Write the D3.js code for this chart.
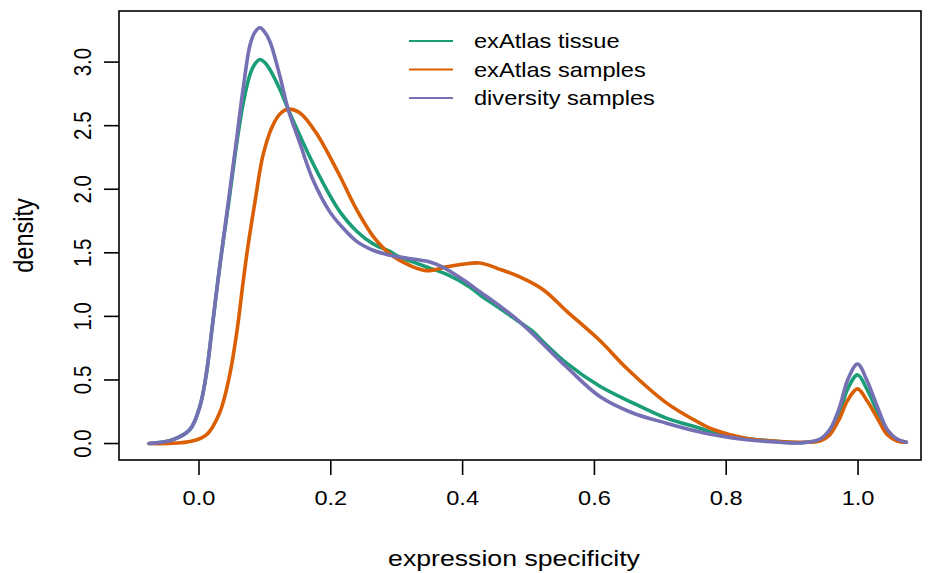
<!DOCTYPE html>
<html>
<head>
<meta charset="utf-8">
<script src="https://cdn.jsdelivr.net/npm/d3@7"></script>
<style>
  body { margin: 0; background: #fff; }
  svg { display: block; }
  text { font-family: "Liberation Sans", Arial, Helvetica, sans-serif; fill: #000; }
</style>
</head>
<body>
<svg id="chart" width="930" height="573"></svg>
<script>
// ---- data ----
const seriesNames = ["exAtlas tissue", "exAtlas samples", "diversity samples"];
const seriesColors = ["#1B9E77", "#D95F02", "#7570B3"];

const tissueX = [-0.075,-0.039,-0.013,0.002,0.012,0.020,0.028,0.035,0.046,0.058,0.068,0.078,0.085,0.093,0.100,0.1085,0.124,0.136,0.154,0.174,0.1995,0.215,0.240,0.265,0.291,0.30,0.351,0.377,0.412,0.432,0.4525,0.483,0.5076,0.523,0.559,0.609,0.659,0.710,0.761,0.781,0.832,0.882,0.913,0.943,0.958,0.973,0.985,1.000,1.014,1.030,1.045,1.060,1.074];
const tissueY = [0,0.03,0.11,0.29,0.55,0.88,1.22,1.50,1.90,2.36,2.68,2.90,2.98,3.02,3.00,2.94,2.78,2.63,2.42,2.20,1.95,1.82,1.67,1.57,1.51,1.48,1.38,1.33,1.23,1.15,1.08,0.97,0.88,0.80,0.63,0.45,0.32,0.20,0.12,0.085,0.04,0.015,0.006,0.03,0.10,0.25,0.43,0.54,0.43,0.25,0.10,0.03,0.01];

const samplesX = [-0.075,-0.013,0.0124,0.032,0.047,0.058,0.0675,0.075,0.086,0.098,0.1125,0.125,0.1358,0.154,0.179,0.204,0.215,0.230,0.240,0.265,0.291,0.321,0.346,0.377,0.401,0.427,0.4575,0.4875,0.523,0.559,0.609,0.650,0.710,0.761,0.781,0.832,0.882,0.913,0.943,0.958,0.973,0.985,1.000,1.014,1.030,1.045,1.060,1.074];
const samplesY = [0,0.015,0.07,0.24,0.53,0.87,1.26,1.55,1.91,2.27,2.50,2.60,2.63,2.60,2.44,2.21,2.10,1.94,1.84,1.63,1.49,1.40,1.36,1.39,1.41,1.42,1.37,1.31,1.21,1.04,0.81,0.59,0.32,0.16,0.11,0.04,0.015,0.01,0.02,0.07,0.20,0.34,0.43,0.34,0.20,0.07,0.02,0.01];

const diversityX = [-0.075,-0.039,-0.013,0.002,0.012,0.020,0.028,0.035,0.046,0.058,0.068,0.078,0.085,0.093,0.100,0.1085,0.124,0.136,0.154,0.174,0.1995,0.215,0.240,0.265,0.291,0.30,0.34,0.35,0.37,0.401,0.428,0.4575,0.48,0.5076,0.559,0.609,0.659,0.710,0.761,0.781,0.832,0.882,0.913,0.943,0.958,0.973,0.985,1.000,1.014,1.030,1.045,1.060,1.074];
const diversityY = [0,0.03,0.11,0.29,0.55,0.88,1.22,1.50,1.93,2.40,2.80,3.13,3.23,3.27,3.24,3.16,2.88,2.63,2.36,2.07,1.82,1.72,1.59,1.52,1.48,1.47,1.44,1.43,1.39,1.29,1.19,1.08,0.99,0.86,0.60,0.37,0.24,0.16,0.09,0.07,0.03,0.01,0.005,0.035,0.11,0.29,0.50,0.625,0.50,0.29,0.11,0.035,0.01];

const xTicks = [0.0, 0.2, 0.4, 0.6, 0.8, 1.0];
const yTicks = [0.0, 0.5, 1.0, 1.5, 2.0, 2.5, 3.0];
const xLabel = "expression specificity";
const yLabel = "density";

// ---- layout ----
const SX = 1.18; // horizontal stretch of glyphs seen in the reference
const svg = d3.select("#chart");
const plot = { left: 119, right: 921, top: 11, bottom: 460 };

const x = d3.scaleLinear().domain([-0.1206, 1.0963]).range([plot.left, plot.right]);
const y = d3.scaleLinear().domain([-0.1296, 3.4019]).range([plot.bottom, plot.top]);

const series = [
  { name: seriesNames[0], color: seriesColors[0], xs: tissueX, ys: tissueY },
  { name: seriesNames[1], color: seriesColors[1], xs: samplesX, ys: samplesY },
  { name: seriesNames[2], color: seriesColors[2], xs: diversityX, ys: diversityY }
];

const line = d3.line().x(d => x(d[0])).y(d => y(d[1])).curve(d3.curveCatmullRom.alpha(0.5));

svg.append("defs").append("clipPath").attr("id", "clip")
  .append("rect").attr("x", plot.left).attr("y", plot.top)
  .attr("width", plot.right - plot.left).attr("height", plot.bottom - plot.top);

const g = svg.append("g").attr("clip-path", "url(#clip)");
series.forEach(s => {
  g.append("path")
    .datum(s.xs.map((v, i) => [v, s.ys[i]]))
    .attr("fill", "none")
    .attr("stroke", s.color)
    .attr("stroke-width", 3.6)
    .attr("stroke-linejoin", "round")
    .attr("stroke-linecap", "round")
    .attr("d", line);
});

// axes (R style)
const xAxis = d3.axisBottom(x).tickValues(xTicks).tickFormat(d3.format(".1f")).tickSize(15).tickPadding(16);
const xg = svg.append("g").attr("transform", `translate(0,${plot.bottom})`).call(xAxis);
xg.select(".domain").remove();
xg.selectAll("line").attr("stroke", "#000").attr("stroke-width", 1.6);
xg.selectAll(".tick text").attr("font-size", 20).attr("fill", "#000")
  .attr("font-family", "Liberation Sans, Arial, sans-serif")
  .attr("x", 0)
  .attr("transform", `scale(${SX},1)`);

const yAxis = d3.axisLeft(y).tickValues(yTicks).tickFormat(d3.format(".1f")).tickSize(15).tickPadding(0);
const yg = svg.append("g").attr("transform", `translate(${plot.left},0)`).call(yAxis);
yg.select(".domain").remove();
yg.selectAll("line").attr("stroke", "#000").attr("stroke-width", 1.6);
yg.selectAll(".tick").attr("transform", null);
yg.selectAll(".tick line").attr("transform", d => `translate(0,${y(d)})`);
yg.selectAll(".tick text")
  .attr("font-size", 20.5).attr("fill", "#000")
  .attr("font-family", "Liberation Sans, Arial, sans-serif")
  .attr("x", 0).attr("y", 0).attr("dy", null)
  .attr("text-anchor", "middle")
  .attr("dominant-baseline", "central")
  .attr("transform", d => `translate(-36,${y(d)}) scale(${SX},1) rotate(-90)`);

// box
svg.append("rect")
  .attr("x", plot.left).attr("y", plot.top)
  .attr("width", plot.right - plot.left).attr("height", plot.bottom - plot.top)
  .attr("fill", "none").attr("stroke", "#000").attr("stroke-width", 1.6);

// axis titles
svg.append("text").attr("transform", `translate(514,566) scale(${SX},1)`)
  .attr("text-anchor", "middle").attr("font-size", 22.6).text(xLabel);
svg.append("text").attr("transform", `translate(33,${(plot.top + plot.bottom) / 2}) scale(${SX},1) rotate(-90)`)
  .attr("text-anchor", "middle").attr("font-size", 23.5).text(yLabel);

// legend
const legend = svg.append("g");
series.forEach((s, i) => {
  const ly = 41 + i * 28.5;
  legend.append("line").attr("x1", 409).attr("x2", 453).attr("y1", ly).attr("y2", ly)
    .attr("stroke", s.color).attr("stroke-width", 2);
  legend.append("text").attr("transform", `translate(474,${ly}) scale(${SX},1)`)
    .attr("dy", "0.36em")
    .attr("font-size", 20).text(s.name);
});
</script>
</body>
</html>
